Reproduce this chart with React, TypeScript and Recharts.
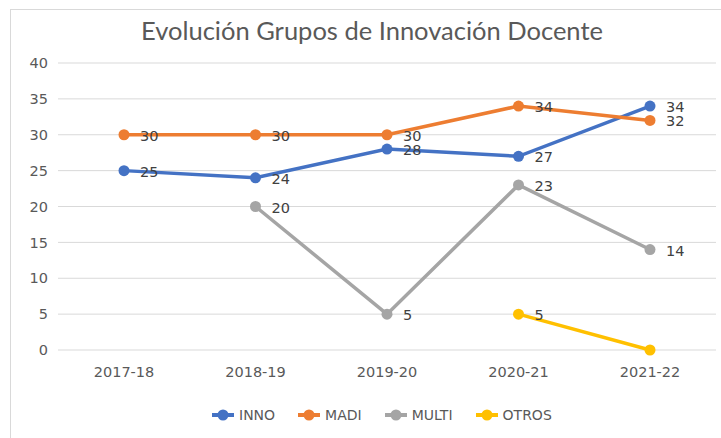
import React from 'react';
import { LineChart, Line, XAxis, YAxis, CartesianGrid, LabelList } from 'recharts';

const categories = ['2017-18', '2018-19', '2019-20', '2020-21', '2021-22'];
const inno = [25, 24, 28, 27, 34];
const madi = [30, 30, 30, 34, 32];
const multi = [null, 20, 5, 23, 14];
const otros = [null, null, null, 5, 0];
const yTicks = [0, 5, 10, 15, 20, 25, 30, 35, 40];

const series = [
  { key: 'INNO', color: '#4472C4', values: inno },
  { key: 'MADI', color: '#ED7D31', values: madi },
  { key: 'MULTI', color: '#A5A5A5', values: multi },
  { key: 'OTROS', color: '#FFC000', values: otros },
];

const data = categories.map((c, i) => {
  const row: any = { name: c };
  series.forEach((s) => {
    row[s.key] = s.values[i];
  });
  return row;
});

const TICK_FONT = '"DejaVu Sans", sans-serif';
const TITLE_FONT = 'Lato, "Open Sans", sans-serif';

const renderLabel = (props: any) => {
  const { x, y, value } = props;
  if (value === null || value === undefined || value === 0) return null;
  return (
    <text x={x + 16} y={y + 6} fill="#404040" fontSize={14.5} fontFamily={TICK_FONT} textAnchor="start">
      {value}
    </text>
  );
};

export default function App() {
  return (
    <div style={{ position: 'absolute', left: 0, top: 0, width: 721, height: 438, background: '#fff', overflow: 'hidden' }}>
      <div
        style={{
          position: 'absolute',
          left: 10,
          top: 9,
          width: 730,
          height: 440,
          border: '1px solid #d9d9d9',
          boxSizing: 'border-box',
        }}
      />
      <div style={{ position: 'absolute', left: 0, top: 0 }}>
        <LineChart width={721} height={438} data={data} margin={{ top: 63, right: 5, bottom: 58, left: 0 }}>
          <text x={372} y={40} textAnchor="middle" fontSize={25.5} fill="#595959" fontFamily={TITLE_FONT}>
            Evolución Grupos de Innovación Docente
          </text>
          <CartesianGrid vertical={false} stroke="#d9d9d9" strokeWidth={1} />
          <XAxis
            dataKey="name"
            height={30}
            axisLine={false}
            tickLine={false}
            tickMargin={11}
            padding={{ left: 66, right: 66 }}
            tick={{ fill: '#595959', fontSize: 14.5, fontFamily: TICK_FONT }}
          />
          <YAxis
            width={58}
            domain={[0, 40]}
            ticks={yTicks}
            axisLine={false}
            tickLine={false}
            tickMargin={4}
            tick={{ fill: '#595959', fontSize: 14.5, fontFamily: TICK_FONT }}
          />
          {series.map((s) => (
            <Line
              key={s.key}
              dataKey={s.key}
              stroke={s.color}
              strokeWidth={3.5}
              dot={{ r: 5.5, fill: s.color, stroke: s.color, strokeWidth: 0 }}
              activeDot={false}
              isAnimationActive={false}
              connectNulls={false}
            >
              <LabelList dataKey={s.key} content={renderLabel} />
            </Line>
          ))}
        </LineChart>
      </div>
      <div
        style={{
          position: 'absolute',
          left: 212,
          top: 406,
          display: 'flex',
          alignItems: 'center',
          fontFamily: TICK_FONT,
          fontSize: 14,
          color: '#595959',
          height: 18,
        }}
      >
        {series.map((s) => (
          <div key={s.key} style={{ display: 'flex', alignItems: 'center', marginRight: 23 }}>
            <svg width={22} height={12} style={{ marginRight: 5 }}>
              <line x1={0} y1={6} x2={22} y2={6} stroke={s.color} strokeWidth={4} />
              <circle cx={11} cy={6} r={5.5} fill={s.color} />
            </svg>
            <span>{s.key}</span>
          </div>
        ))}
      </div>
    </div>
  );
}
